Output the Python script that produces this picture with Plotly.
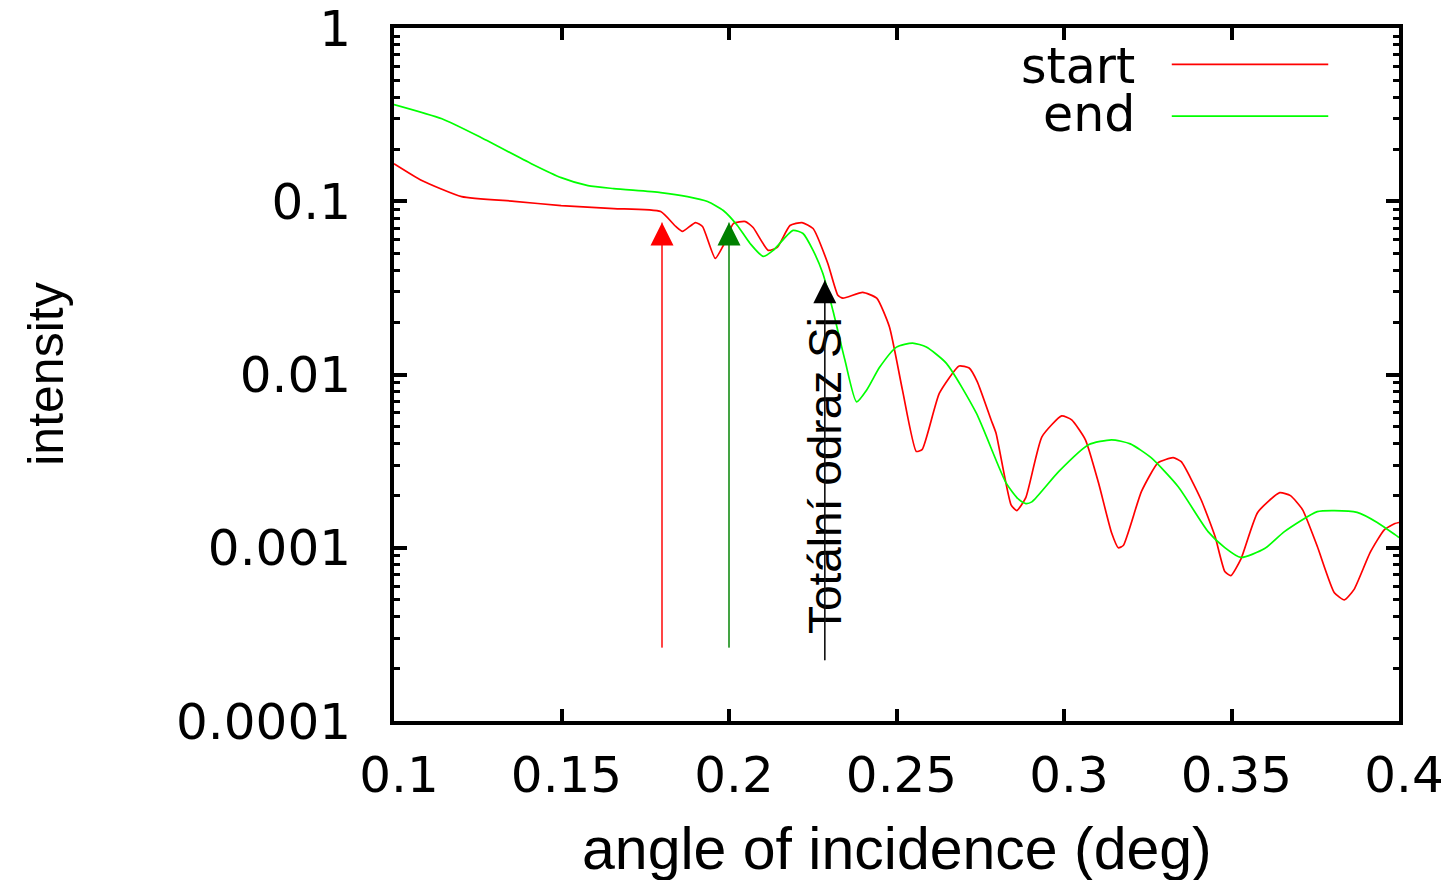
import math
import plotly.graph_objects as go

# ---------------- data ----------------
start_x = [0.1000, 0.1083, 0.1202, 0.1359, 0.1499, 0.1656, 0.1796, 0.1841, 0.1861, 0.1900,
           0.1921, 0.1959, 0.1983, 0.2013, 0.2049, 0.2072, 0.2117, 0.2144, 0.2182, 0.2218,
           0.2251, 0.2295, 0.2325, 0.2340, 0.2399, 0.2441, 0.2479, 0.2518, 0.2559, 0.2577,
           0.2628, 0.2687, 0.2717, 0.2741, 0.2782, 0.2797, 0.2842, 0.2859, 0.2886, 0.2934,
           0.2993, 0.3023, 0.3064, 0.3103, 0.3142, 0.3162, 0.3177, 0.3231, 0.3281, 0.3326,
           0.3350, 0.3409, 0.3451, 0.3480, 0.3498, 0.3528, 0.3578, 0.3644, 0.3676, 0.3712,
           0.3756, 0.3807, 0.3837, 0.3866, 0.3914, 0.3956, 0.3988, 0.4000]
start_y = [0.165, 0.132, 0.1065, 0.100, 0.0945, 0.0908, 0.0873, 0.0716, 0.0670, 0.0754,
           0.0716, 0.0468, 0.0556, 0.0744, 0.0764, 0.0706, 0.0521, 0.0542, 0.0725, 0.0754,
           0.0697, 0.0438, 0.0287, 0.0276, 0.0298, 0.0276, 0.0188, 0.0081, 0.0036, 0.0037,
           0.0078, 0.0112, 0.0109, 0.0091, 0.0055, 0.0046, 0.00177, 0.00164, 0.00195, 0.00437,
           0.00577, 0.00547, 0.0042, 0.00237, 0.00122, 0.00100, 0.00103, 0.00211, 0.00310, 0.00331,
           0.00314, 0.00190, 0.00116, 0.00073, 0.00069, 0.00086, 0.00160, 0.00208, 0.00200, 0.00166,
           0.00102, 0.00055, 0.00050, 0.000575, 0.00094, 0.00127, 0.00138, 0.00140]

end_x = [0.1000, 0.1143, 0.1261, 0.1410, 0.1499, 0.1579, 0.1656, 0.1796, 0.1876, 0.1936,
         0.1983, 0.2025, 0.2063, 0.2102, 0.2132, 0.2191, 0.2221, 0.2251, 0.2280, 0.2310,
         0.2346, 0.2381, 0.2411, 0.2450, 0.2500, 0.2548, 0.2589, 0.2649, 0.2738, 0.2827,
         0.2865, 0.2886, 0.2904, 0.2984, 0.3073, 0.3142, 0.3198, 0.3260, 0.3341, 0.3430,
         0.3480, 0.3528, 0.3599, 0.3658, 0.3756, 0.3807, 0.3875, 0.3935, 0.3988, 0.4000]
end_y = [0.362, 0.2995, 0.2328, 0.165, 0.137, 0.1232, 0.1184, 0.1123, 0.1065, 0.0997,
         0.0885, 0.0725, 0.0571, 0.0481, 0.0521, 0.0679, 0.0652, 0.0521, 0.0384, 0.0235,
         0.01212, 0.00695, 0.00814, 0.01104, 0.0144, 0.0152, 0.0144, 0.0116, 0.0060, 0.00237,
         0.0019, 0.0018, 0.00184, 0.00275, 0.00393, 0.0042, 0.00398, 0.00331, 0.00225, 0.00124,
         0.001003, 0.000879, 0.00099, 0.00124, 0.001617, 0.00164, 0.0016, 0.0014, 0.00119, 0.001145]

x_tick_vals = [0.1, 0.15, 0.2, 0.25, 0.3, 0.35, 0.4]
x_tick_text = ["0.1", "0.15", "0.2", "0.25", "0.3", "0.35", "0.4"]
y_tick_vals = [0.0001, 0.001, 0.01, 0.1, 1]
y_tick_text = ["0.0001", "0.001", "0.01", "0.1", "1"]

# arrows: position, tip value, tail value
arrow_x = [0.18, 0.20, 0.2286]
arrow_tip = [0.0754, 0.0754, 0.035]
arrow_tail = [0.00026, 0.00026, 0.00022]
arrow_head_colors = ["#ff0000", "#008000", "#000000"]
arrow_line_colors = ["#ff5a5a", "#55b055", "#333333"]

label_text = "Totální odraz Si"
label_y = 0.00262

series_names = ["start", "end"]
series_colors = ["#ff0000", "#00ff00"]

# ---------------- figure ----------------
fig = go.Figure()
fig.add_trace(go.Scatter(x=start_x, y=start_y, mode="lines", name="start",
                         line=dict(color=series_colors[0], width=1.7, shape="spline", smoothing=0.5),
                         showlegend=False))
fig.add_trace(go.Scatter(x=end_x, y=end_y, mode="lines", name="end",
                         line=dict(color=series_colors[1], width=1.7, shape="spline", smoothing=0.6),
                         showlegend=False))

annotations = []
# rotated label
annotations.append(dict(x=arrow_x[2], y=math.log10(label_y), xref="x", yref="y",
                        text=label_text, showarrow=False, textangle=-90,
                        font=dict(family="Liberation Sans", size=46, color="black"),
                        xanchor="center", yanchor="middle"))
for xa, tip, tail, hc, lc in zip(arrow_x, arrow_tip, arrow_tail, arrow_head_colors, arrow_line_colors):
    # shaft
    annotations.append(dict(x=xa, y=math.log10(tip), xref="x", yref="y",
                            ax=xa, ay=math.log10(tail), axref="x", ayref="y",
                            text="", showarrow=True, arrowhead=0, arrowwidth=1.4,
                            arrowcolor=lc))
    # head
    annotations.append(dict(x=xa, y=math.log10(tip), xref="x", yref="y",
                            ax=xa, ay=math.log10(tail), axref="x", ayref="y",
                            text="", showarrow=True, arrowhead=2, arrowwidth=1.0,
                            arrowsize=4.6, arrowcolor=hc))

# axis titles
annotations.append(dict(x=0.5, y=-0.184, xref="paper", yref="paper",
                        text="angle of incidence (deg)", showarrow=False,
                        font=dict(family="Liberation Sans", size=59, color="black"),
                        xanchor="center", yanchor="middle"))
annotations.append(dict(x=-0.347, y=0.5, xref="paper", yref="paper",
                        text="intensity", showarrow=False, textangle=-90,
                        font=dict(family="Liberation Sans", size=50, color="black"),
                        xanchor="center", yanchor="middle"))

# legend (gnuplot style: text left, sample right)
legend_y = [0.9447, 0.8758]
for name, ly in zip(series_names, legend_y):
    annotations.append(dict(x=0.7395, y=ly, xref="paper", yref="paper",
                            text=name, showarrow=False, xanchor="right", yanchor="middle",
                            font=dict(family="DejaVu Sans", size=49, color="black")))
shapes = []
for col, ly in zip(series_colors, [0.9476, 0.8729]):
    shapes.append(dict(type="line", xref="paper", yref="paper", x0=0.7739, x1=0.9296,
                       y0=ly, y1=ly, line=dict(color=col, width=1.7)))

# the page body has an 8px margin, so the figure is 8px smaller than the window
fig.update_layout(
    width=1446, height=872,
    margin=dict(l=386, r=55, t=20, b=159, autoexpand=False),
    paper_bgcolor="white", plot_bgcolor="white",
    annotations=annotations, shapes=shapes,
    showlegend=False,
)
fig.update_xaxes(
    range=[0.1, 0.4], tickmode="array", tickvals=x_tick_vals, ticktext=x_tick_text,
    showgrid=False, zeroline=False, showline=True, linecolor="black", linewidth=4,
    mirror="allticks", ticks="inside", ticklen=12, tickwidth=4, tickcolor="black",
    tickfont=dict(family="DejaVu Sans", size=50, color="black"),
    ticklabelstandoff=7, ticklabelshift=5, automargin=False,
)
fig.update_yaxes(
    type="log", range=[-4, 0.0005], tickmode="array", tickvals=y_tick_vals, ticktext=y_tick_text,
    showgrid=False, zeroline=False, showline=True, linecolor="black", linewidth=4,
    mirror="allticks", ticks="inside", ticklen=13, tickwidth=4, tickcolor="black",
    tickfont=dict(family="DejaVu Sans", size=50, color="black"),
    ticklabelstandoff=29, ticklabeloverflow="allow", automargin=False,
    minor=dict(ticks="inside", ticklen=6, tickwidth=3, tickcolor="black", dtick="D1", showgrid=False),
)

fig.write_html("out.html")
